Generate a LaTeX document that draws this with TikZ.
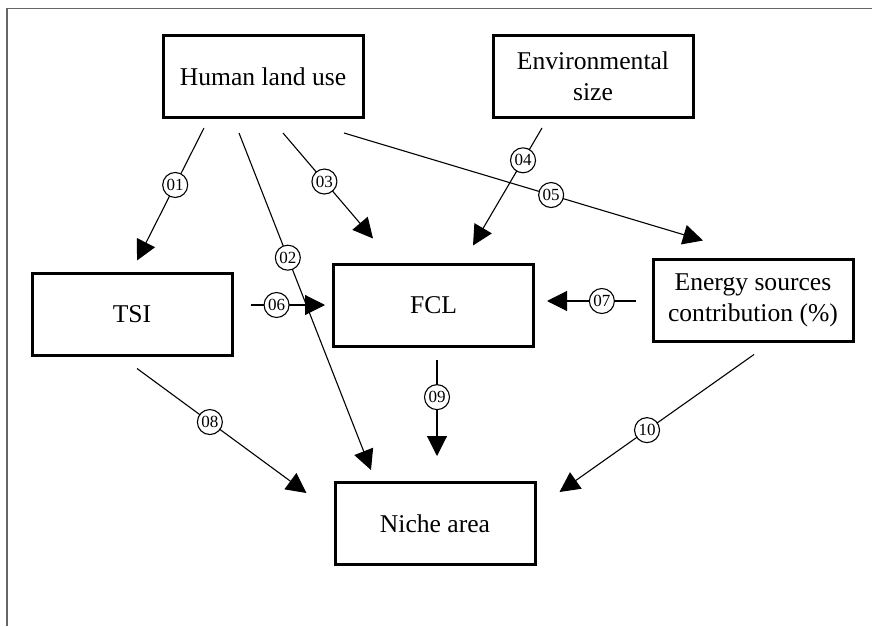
\documentclass[tikz,border=0pt]{standalone}
\usepackage{fontspec}
\setmainfont{Liberation Serif}
\usetikzlibrary{arrows.meta}

\begin{document}
\begin{tikzpicture}[x=0.5pt,y=-0.5pt,
      box/.style={draw,line width=1.5pt,minimum width=100pt,minimum height=41pt,
        align=center,font=\fontsize{12.8}{15.5}\selectfont},
      link/.style={line width=0.55pt,-{Triangle[length=10pt,width=10pt]}},
      num/.style={circle,draw,line width=0.55pt,fill=white,inner sep=0pt,
        minimum size=12.5pt,font=\fontsize{8.5}{9}\selectfont}]
      \useasboundingbox (0,0) rectangle (872,626);
      \draw[line width=0.6pt,gray!80!black] (7,626)--(7,8.5)--(872,8.5);
      \node [box] (hlu) at (263,76.5) {Human land use};
      \node [box] (env) at (593,76.5) {Environmental\\size};
      \node [box] (tsi) at (132,314) {TSI};
      \node [box] (fcl) at (433.5,305) {FCL};
      \node [box] (esc) at (753,300) {Energy sources\\contribution (\%)};
      \node [box] (niche) at (435,523.5) {Niche area};
      \draw[link] ([shift={(-59,9)}]hlu.south) -- node[num,pos=0.43]{01} ([shift={(5,-11)}]tsi.north);
      \draw[link] ([shift={(-24,14)}]hlu.south) -- node[num,pos=0.37]{02} ([shift={(-64,-11)}]niche.north);
      \draw[link] ([shift={(20,14)}]hlu.south) -- node[num,pos=0.46]{03} ([shift={(-60.5,-24)}]fcl.north);
      \draw[link] ([shift={(-51,9)}]env.south) -- node[num,pos=0.275]{04} ([shift={(39.5,-17)}]fcl.north);
      \draw[link] ([shift={(81,14)}]hlu.south) -- node[num,pos=0.577]{05} ([shift={(-50,-17)}]esc.north);
      \draw[link] ([shift={(17,-9)}]tsi.east) -- node[num,pos=0.35]{06} ([shift={(-7,0)}]fcl.west);
      \draw[link] ([shift={(-16,1)}]esc.west) -- node[num,pos=0.38]{07} ([shift={(12,-4)}]fcl.east);
      \draw[link] ([shift={(5,12)}]tsi.south) -- node[num,pos=0.43]{08} ([shift={(-27,-30.5)}]niche.west);
      \draw[link] ([shift={(3.5,12)}]fcl.south) -- node[num,pos=0.39]{09} ([shift={(2,-25)}]niche.north);
      \draw[link] ([shift={(1,12)}]esc.south) -- node[num,pos=0.55]{10} ([shift={(23,-31.5)}]niche.east);
    \end{tikzpicture}
\end{document}
